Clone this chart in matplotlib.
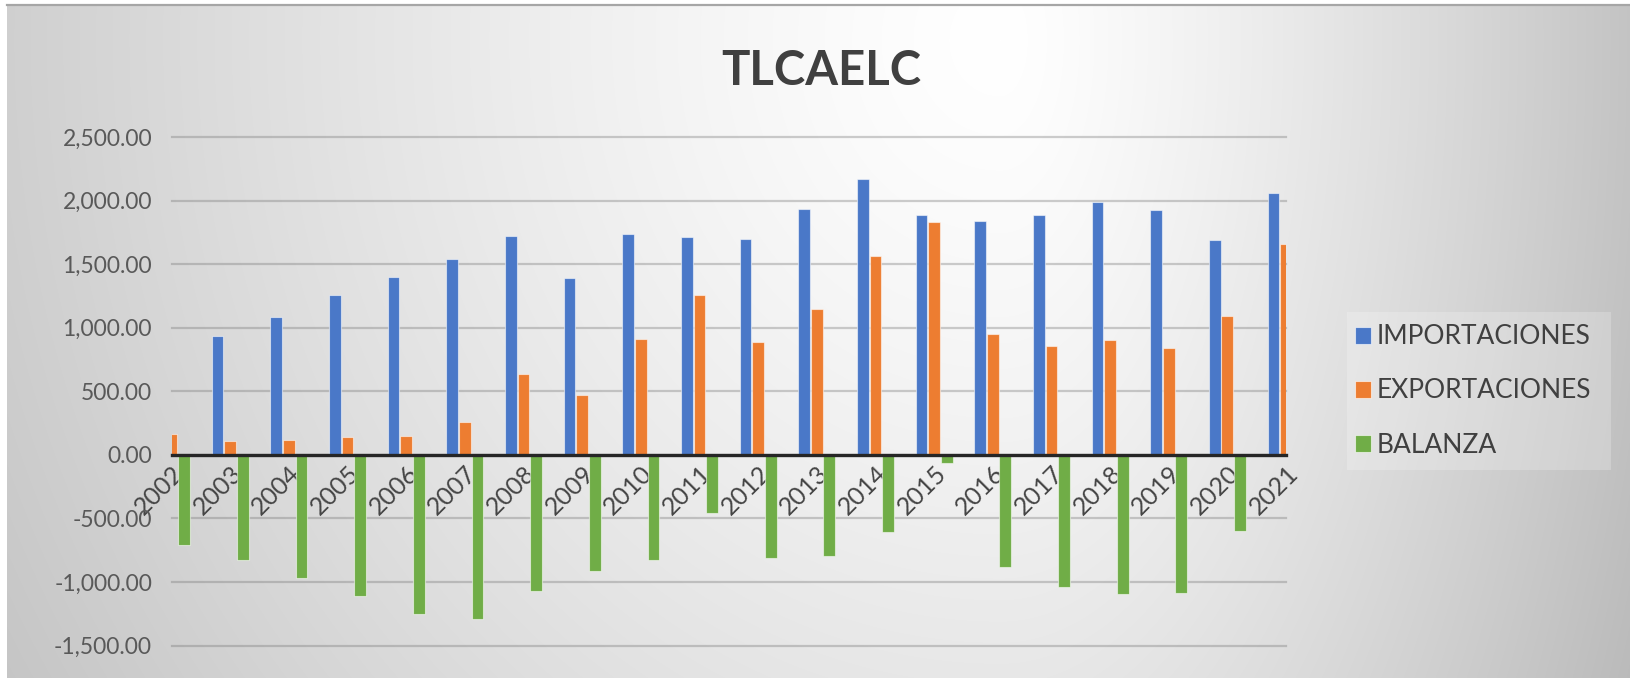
import numpy as np
import matplotlib
matplotlib.use("Agg")
import matplotlib.pyplot as plt
from matplotlib.patches import Patch, Rectangle

years = ["2002", "2003", "2004", "2005", "2006", "2007", "2008", "2009", "2010", "2011",
         "2012", "2013", "2014", "2015", "2016", "2017", "2018", "2019", "2020", "2021"]
importaciones = [871, 935, 1086, 1257, 1398, 1539, 1724, 1394, 1734, 1713,
                 1700, 1935, 2170, 1888, 1841, 1888, 1990, 1922, 1689, 2063]
exportaciones = [162, 107, 120, 141, 152, 259, 634, 469, 911, 1256,
                 890, 1146, 1561, 1830, 948, 859, 903, 841, 1094, 1660]
balanza = [-709, -827, -966, -1110, -1251, -1288, -1071, -910, -827, -455,
           -814, -793, -610, -60, -885, -1037, -1094, -1084, -600, -403]
series_names = ["IMPORTACIONES", "EXPORTACIONES", "BALANZA"]
yticks = [-1500, -1000, -500, 0, 500, 1000, 1500, 2000, 2500]
title = "TLCAELC"

colors = ["#4a78c8", "#ED7D31", "#70AD47"]
W, H = 1630, 678
fig = plt.figure(figsize=(W / 100, H / 100), dpi=100)
fig.patch.set_facecolor("white")

# background radial gradient
bx0, by_top = 7, 5
bg = fig.add_axes([bx0 / W, 0, 1 - bx0 / W, 1 - by_top / H])
bg.set_axis_off()
xx, yy = np.meshgrid(np.arange(bx0, W), np.arange(by_top, H))
cx, cy = 1000.0, 40.0
axx = np.where(xx < cx, 1050.0, 560.0)
r = np.sqrt(((xx - cx) / axx) ** 2 + ((yy - cy) / 1150.0) ** 2)
v = 1 - 0.20 * r ** 1.3
v = np.clip(v, 0.68, 1.0)
img = np.dstack([v, v, v])
bg.imshow(img, aspect="auto", extent=[0, 1, 0, 1], interpolation="bilinear")
bg.set_xlim(0, 1)
bg.set_ylim(0, 1)
fig.add_artist(plt.Line2D([bx0 / W, 1], [1 - by_top / H, 1 - by_top / H],
                          color="#a6a6a6", lw=1.6, transform=fig.transFigure))

# main axes
left, right = 171.5, 1286
top_px, bot_px = 137, 645.6
ax = fig.add_axes([left / W, 1 - bot_px / H, (right - left) / W, (bot_px - top_px) / H])
ax.patch.set_alpha(0)

x = np.arange(len(years))
bw = 0.2
off = 0.215
for i, (vals, c, name) in enumerate(zip([importaciones, exportaciones, balanza], colors, series_names)):
    ax.bar(x + (i - 1) * off, vals, width=bw, color=c, edgecolor=(1, 1, 1, 0.55),
           linewidth=0.8, zorder=3, label=name)

ax.set_xlim(0, len(years) - 1)
ax.set_ylim(-1500, 2500)
ax.set_yticks(yticks)
ax.set_yticklabels([f"{t:,.2f}" for t in yticks], fontsize=16.5, color="#595959", family="Lato")
ax.tick_params(axis="y", length=0, pad=14)
ax.yaxis.grid(True, color=(0.45, 0.45, 0.45), alpha=0.35, lw=1.6, zorder=1)
for gl in ax.get_ygridlines():
    gl.set_clip_on(False)
for s in ["top", "right", "left"]:
    ax.spines[s].set_visible(False)
ax.spines["bottom"].set_position(("data", 0))
ax.spines["bottom"].set_color("#262626")
ax.spines["bottom"].set_linewidth(2.4)
ax.spines["bottom"].set_zorder(4)
ax.set_xticks(x)
ax.set_xticklabels(years, rotation=45, ha="right", va="top", rotation_mode="anchor",
                   fontsize=18, color="#454545", family="Lato")
ax.tick_params(axis="x", length=0, pad=5)

fig.text(821 / W, 1 - 71 / H, title, ha="center", va="center", fontsize=34,
         fontweight="bold", color="#404040", family="Lato")

# legend box
lx0, ly0, lx1, ly1 = 1347, 312, 1611, 470
fig.add_artist(Rectangle((lx0 / W, 1 - ly1 / H), (lx1 - lx0) / W, (ly1 - ly0) / H,
                         transform=fig.transFigure, facecolor=(1, 1, 1, 0.22),
                         edgecolor="none", zorder=2))
handles = [Patch(facecolor=c, edgecolor=(1, 1, 1, 0.6), lw=0.8) for c in colors]
leg = fig.legend(handles, series_names, loc="center left",
                 bbox_to_anchor=(1355 / W, 1 - 391 / H), frameon=False,
                 prop={"family": "Lato", "size": 19}, handlelength=0.62, handleheight=0.62,
                 handletextpad=0.2, labelspacing=1.1, borderpad=0, borderaxespad=0)
for t in leg.get_texts():
    t.set_color("#404040")

fig.savefig("out.png", dpi=100, facecolor=fig.get_facecolor())
